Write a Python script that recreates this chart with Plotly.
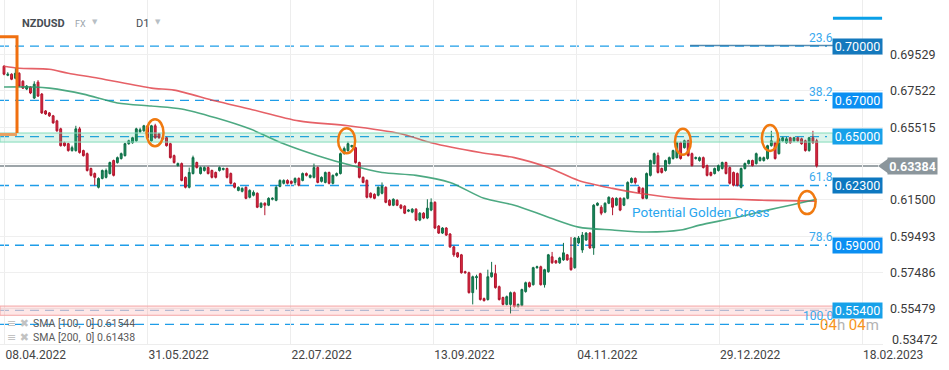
import plotly.graph_objects as go
import pandas as pd

# ---------------- data ----------------
trade_dates = pd.bdate_range("2022-04-08", "2023-02-03")  # 216 daily sessions
bar_pos = list(range(len(trade_dates)))

opens = [
    0.6889, 0.6839, 0.6845, 0.6823, 0.6850, 0.6806, 0.6763, 0.6774, 0.6713, 0.6801,
    0.6735, 0.6642, 0.6631, 0.6615, 0.6587, 0.6543, 0.6466, 0.6461, 0.6423, 0.6423,
    0.6543, 0.6423, 0.6406, 0.6324, 0.6296, 0.6220, 0.6269, 0.6275, 0.6296, 0.6368,
    0.6357, 0.6379, 0.6395, 0.6461, 0.6466, 0.6477, 0.6527, 0.6532, 0.6560, 0.6477,
    0.6560, 0.6516, 0.6494, 0.6494, 0.6461, 0.6395, 0.6340, 0.6351, 0.6275, 0.6220,
    0.6296, 0.6357, 0.6296, 0.6313, 0.6329, 0.6313, 0.6302, 0.6313, 0.6318, 0.6324,
    0.6296, 0.6242, 0.6203, 0.6198, 0.6220, 0.6165, 0.6176, 0.6187, 0.6110, 0.6132,
    0.6121, 0.6154, 0.6148, 0.6225, 0.6242, 0.6258, 0.6253, 0.6247, 0.6269, 0.6258,
    0.6296, 0.6275, 0.6275, 0.6329, 0.6253, 0.6247, 0.6302, 0.6242, 0.6286, 0.6296,
    0.6406, 0.6423, 0.6445, 0.6439, 0.6357, 0.6275, 0.6258, 0.6187, 0.6181, 0.6176,
    0.6187, 0.6220, 0.6148, 0.6121, 0.6148, 0.6121, 0.6116, 0.6088, 0.6083, 0.6099,
    0.6039, 0.6077, 0.6050, 0.6094, 0.6137, 0.6006, 0.5967, 0.5995, 0.5962, 0.5891,
    0.5858, 0.5847, 0.5754, 0.5748, 0.5638, 0.5721, 0.5743, 0.5605, 0.5600, 0.5726,
    0.5743, 0.5671, 0.5611, 0.5573, 0.5573, 0.5638, 0.5562, 0.5567, 0.5644, 0.5693,
    0.5682, 0.5776, 0.5781, 0.5682, 0.5754, 0.5836, 0.5814, 0.5803, 0.5819, 0.5847,
    0.5830, 0.5776, 0.5913, 0.5874, 0.5929, 0.5967, 0.5885, 0.6121, 0.6110, 0.6083,
    0.6132, 0.6159, 0.6121, 0.6159, 0.6121, 0.6159, 0.6247, 0.6269, 0.6220, 0.6214,
    0.6159, 0.6286, 0.6351, 0.6395, 0.6324, 0.6313, 0.6351, 0.6379, 0.6384, 0.6466,
    0.6439, 0.6477, 0.6406, 0.6379, 0.6368, 0.6384, 0.6340, 0.6302, 0.6296, 0.6313,
    0.6324, 0.6357, 0.6329, 0.6302, 0.6296, 0.6220, 0.6324, 0.6351, 0.6368, 0.6351,
    0.6368, 0.6368, 0.6379, 0.6450, 0.6466, 0.6406, 0.6477, 0.6466, 0.6494, 0.6477,
    0.6494, 0.6488, 0.6477, 0.6423, 0.6494, 0.6477,
]
closes = [
    0.6845, 0.6845, 0.6817, 0.6850, 0.6779, 0.6768, 0.6779, 0.6741, 0.6790, 0.6724,
    0.6631, 0.6625, 0.6615, 0.6576, 0.6532, 0.6450, 0.6450, 0.6423, 0.6439, 0.6543,
    0.6412, 0.6395, 0.6313, 0.6286, 0.6275, 0.6269, 0.6313, 0.6313, 0.6357, 0.6286,
    0.6384, 0.6406, 0.6461, 0.6477, 0.6494, 0.6543, 0.6538, 0.6560, 0.6494, 0.6560,
    0.6494, 0.6494, 0.6488, 0.6450, 0.6384, 0.6357, 0.6351, 0.6258, 0.6220, 0.6302,
    0.6384, 0.6329, 0.6329, 0.6329, 0.6296, 0.6275, 0.6275, 0.6329, 0.6324, 0.6275,
    0.6242, 0.6220, 0.6220, 0.6214, 0.6159, 0.6203, 0.6192, 0.6110, 0.6132, 0.6121,
    0.6159, 0.6159, 0.6220, 0.6258, 0.6258, 0.6242, 0.6242, 0.6269, 0.6231, 0.6296,
    0.6286, 0.6286, 0.6329, 0.6247, 0.6275, 0.6302, 0.6242, 0.6286, 0.6296, 0.6406,
    0.6434, 0.6461, 0.6450, 0.6357, 0.6275, 0.6247, 0.6165, 0.6165, 0.6159, 0.6220,
    0.6225, 0.6137, 0.6121, 0.6154, 0.6121, 0.6105, 0.6077, 0.6094, 0.6099, 0.6039,
    0.6077, 0.6050, 0.6105, 0.6137, 0.5995, 0.5967, 0.5995, 0.5956, 0.5891, 0.5847,
    0.5836, 0.5748, 0.5748, 0.5638, 0.5726, 0.5726, 0.5600, 0.5594, 0.5726, 0.5748,
    0.5666, 0.5600, 0.5573, 0.5616, 0.5638, 0.5562, 0.5573, 0.5655, 0.5693, 0.5671,
    0.5776, 0.5781, 0.5682, 0.5765, 0.5847, 0.5803, 0.5803, 0.5830, 0.5858, 0.5819,
    0.5765, 0.5940, 0.5940, 0.5956, 0.5967, 0.5885, 0.6121, 0.6132, 0.6077, 0.6132,
    0.6165, 0.6110, 0.6159, 0.6094, 0.6159, 0.6247, 0.6269, 0.6247, 0.6192, 0.6159,
    0.6296, 0.6368, 0.6406, 0.6302, 0.6302, 0.6368, 0.6384, 0.6423, 0.6466, 0.6379,
    0.6477, 0.6395, 0.6340, 0.6384, 0.6384, 0.6329, 0.6286, 0.6286, 0.6324, 0.6340,
    0.6357, 0.6296, 0.6242, 0.6231, 0.6231, 0.6324, 0.6351, 0.6368, 0.6340, 0.6406,
    0.6384, 0.6384, 0.6450, 0.6477, 0.6379, 0.6488, 0.6494, 0.6488, 0.6466, 0.6494,
    0.6477, 0.6461, 0.6423, 0.6494, 0.6466, 0.63384,
]
highs = [
    0.6894, 0.6856, 0.6850, 0.6878, 0.6856, 0.6812, 0.6785, 0.6779, 0.6806, 0.6812,
    0.6741, 0.6647, 0.6636, 0.6620, 0.6593, 0.6549, 0.6472, 0.6466, 0.6450, 0.6560,
    0.6554, 0.6428, 0.6412, 0.6329, 0.6302, 0.6275, 0.6318, 0.6324, 0.6362, 0.6373,
    0.6390, 0.6412, 0.6466, 0.6483, 0.6499, 0.6549, 0.6549, 0.6565, 0.6565, 0.6565,
    0.6571, 0.6521, 0.6499, 0.6499, 0.6466, 0.6401, 0.6357, 0.6357, 0.6280, 0.6329,
    0.6395, 0.6362, 0.6335, 0.6335, 0.6335, 0.6318, 0.6307, 0.6335, 0.6329, 0.6329,
    0.6302, 0.6247, 0.6225, 0.6220, 0.6225, 0.6209, 0.6203, 0.6192, 0.6137, 0.6137,
    0.6165, 0.6165, 0.6231, 0.6264, 0.6264, 0.6264, 0.6258, 0.6275, 0.6275, 0.6302,
    0.6302, 0.6291, 0.6351, 0.6335, 0.6280, 0.6307, 0.6307, 0.6291, 0.6302, 0.6412,
    0.6445, 0.6472, 0.6455, 0.6445, 0.6362, 0.6280, 0.6264, 0.6192, 0.6187, 0.6225,
    0.6247, 0.6225, 0.6154, 0.6159, 0.6154, 0.6127, 0.6121, 0.6099, 0.6105, 0.6105,
    0.6083, 0.6083, 0.6154, 0.6159, 0.6143, 0.6011, 0.6000, 0.6000, 0.5967, 0.5896,
    0.5863, 0.5852, 0.5759, 0.5754, 0.5732, 0.5737, 0.5748, 0.5611, 0.5765, 0.5808,
    0.5792, 0.5677, 0.5616, 0.5622, 0.5644, 0.5644, 0.5578, 0.5660, 0.5699, 0.5699,
    0.5781, 0.5787, 0.5787, 0.5770, 0.5852, 0.5863, 0.5819, 0.5836, 0.5913, 0.5852,
    0.5945, 0.5945, 0.5951, 0.5973, 0.5973, 0.5973, 0.6127, 0.6137, 0.6121, 0.6137,
    0.6170, 0.6165, 0.6165, 0.6165, 0.6165, 0.6253, 0.6275, 0.6275, 0.6225, 0.6220,
    0.6302, 0.6373, 0.6412, 0.6412, 0.6329, 0.6373, 0.6390, 0.6428, 0.6472, 0.6472,
    0.6483, 0.6483, 0.6412, 0.6390, 0.6390, 0.6390, 0.6346, 0.6307, 0.6329, 0.6346,
    0.6362, 0.6362, 0.6335, 0.6307, 0.6302, 0.6329, 0.6357, 0.6373, 0.6373, 0.6412,
    0.6390, 0.6390, 0.6455, 0.6532, 0.6472, 0.6494, 0.6499, 0.6499, 0.6499, 0.6499,
    0.6499, 0.6494, 0.6483, 0.6499, 0.6532, 0.6488,
]
lows = [
    0.6839, 0.6834, 0.6812, 0.6817, 0.6774, 0.6763, 0.6757, 0.6735, 0.6708, 0.6719,
    0.6625, 0.6620, 0.6609, 0.6571, 0.6527, 0.6445, 0.6445, 0.6417, 0.6417, 0.6417,
    0.6406, 0.6390, 0.6307, 0.6280, 0.6231, 0.6214, 0.6264, 0.6269, 0.6291, 0.6280,
    0.6351, 0.6373, 0.6390, 0.6455, 0.6461, 0.6472, 0.6521, 0.6527, 0.6488, 0.6472,
    0.6488, 0.6488, 0.6483, 0.6445, 0.6379, 0.6351, 0.6335, 0.6253, 0.6214, 0.6214,
    0.6291, 0.6324, 0.6291, 0.6307, 0.6291, 0.6269, 0.6269, 0.6307, 0.6313, 0.6269,
    0.6236, 0.6214, 0.6198, 0.6192, 0.6154, 0.6159, 0.6170, 0.6105, 0.6105, 0.6066,
    0.6116, 0.6148, 0.6143, 0.6220, 0.6236, 0.6236, 0.6236, 0.6231, 0.6225, 0.6253,
    0.6280, 0.6269, 0.6269, 0.6242, 0.6247, 0.6242, 0.6236, 0.6236, 0.6280, 0.6291,
    0.6401, 0.6417, 0.6439, 0.6351, 0.6269, 0.6242, 0.6159, 0.6159, 0.6154, 0.6170,
    0.6181, 0.6132, 0.6116, 0.6116, 0.6116, 0.6099, 0.6072, 0.6083, 0.6077, 0.6033,
    0.6033, 0.6044, 0.6044, 0.6088, 0.5989, 0.5962, 0.5962, 0.5951, 0.5885, 0.5836,
    0.5830, 0.5743, 0.5743, 0.5633, 0.5573, 0.5655, 0.5594, 0.5589, 0.5594, 0.5721,
    0.5660, 0.5594, 0.5567, 0.5567, 0.5523, 0.5556, 0.5556, 0.5562, 0.5638, 0.5666,
    0.5677, 0.5770, 0.5677, 0.5666, 0.5748, 0.5797, 0.5797, 0.5797, 0.5814, 0.5814,
    0.5759, 0.5770, 0.5907, 0.5858, 0.5924, 0.5880, 0.5847, 0.6116, 0.6066, 0.6077,
    0.6127, 0.6066, 0.6116, 0.6088, 0.6116, 0.6154, 0.6242, 0.6236, 0.6187, 0.6154,
    0.6154, 0.6280, 0.6346, 0.6296, 0.6296, 0.6307, 0.6346, 0.6373, 0.6379, 0.6373,
    0.6434, 0.6390, 0.6335, 0.6373, 0.6362, 0.6324, 0.6280, 0.6280, 0.6291, 0.6307,
    0.6318, 0.6291, 0.6236, 0.6225, 0.6225, 0.6214, 0.6318, 0.6346, 0.6335, 0.6346,
    0.6362, 0.6362, 0.6373, 0.6445, 0.6373, 0.6401, 0.6472, 0.6461, 0.6461, 0.6472,
    0.6472, 0.6455, 0.6417, 0.6417, 0.6461, 0.6329,
]

# moving averages (sampled along the curve, by bar index)
sma100_pos = [0, 8, 12, 21, 30, 39, 47, 56, 65, 74, 83, 92, 100, 109, 118, 127, 135,
              144, 152, 161, 170, 179, 184, 193, 202, 208, 215]
sma100_vals = [0.6774, 0.6774, 0.6768, 0.6735, 0.6686, 0.6669, 0.6653, 0.6604, 0.6543,
               0.6461, 0.6395, 0.6340, 0.6302, 0.6286, 0.6247, 0.6159, 0.6121, 0.6055,
               0.6000, 0.5984, 0.5973, 0.5984, 0.6011, 0.6050, 0.6094, 0.6121, 0.61544]
sma200_pos = [0, 4, 12, 17, 25, 39, 45, 56, 65, 78, 91, 105, 113, 126, 135, 144, 152,
              161, 168, 179, 184, 193, 202, 215]
sma200_vals = [0.6889, 0.6878, 0.6872, 0.6850, 0.6823, 0.6768, 0.6757, 0.6697, 0.6653,
               0.6587, 0.6560, 0.6516, 0.6466, 0.6412, 0.6384, 0.6329, 0.6258, 0.6214,
               0.6187, 0.6159, 0.6154, 0.6154, 0.6148, 0.61438]

x_tick_pos = [0.2, 38.0, 75.8, 113.6, 151.4, 189.2, 227.0]
x_tick_labels = ["08.04.2022", "31.05.2022", "22.07.2022", "13.09.2022",
                 "04.11.2022", "29.12.2022", "18.02.2023"]
y_ticks = [0.69529, 0.67522, 0.65515, 0.63508, 0.61500, 0.59493, 0.57486, 0.55479]
y_tick_text = ["0.69529", "0.67522", "0.65515", "", "0.61500", "0.59493", "0.57486", "0.55479"]

levels = [0.70000, 0.67000, 0.65000, 0.62300, 0.59000, 0.55400]
level_colors = ["#1479bd", "#0b8ff2", "#17a1e9", "#0d78c0", "#0b8ff2", "#17a1e9"]
fib_labels = ["23.6", "38.2", "61.8", "78.6", "100.0"]
fib_label_y = [0.7045, 0.6747, 0.6277, 0.5946, 0.5509]
fib_100_level = 0.5463
last_price = 0.63384
sma_legend = ["SMA [100,  0] 0.61544", "SMA [200,  0] 0.61438"]

# ---------------- layout constants ----------------
W, H = 949, 370
ML, MR, MT, MB = 0, 66, 0, 26
PW, PH = W - ML - MR, H - MT - MB
X_RANGE = [-1.06, 232.54]
Y_RANGE = [0.53543, 0.72549]
FONT = "Roboto, 'Noto Sans', sans-serif"


def px_x(px):  # paper x from pixel
    return px / PW


def px_y(py):  # paper y from pixel (top=0)
    return (PH - py) / PH


def val_to_paper(v):
    return (v - Y_RANGE[0]) / (Y_RANGE[1] - Y_RANGE[0])


fig = go.Figure()

fig.add_trace(go.Candlestick(
    x=bar_pos, open=opens, high=highs, low=lows, close=closes,
    increasing=dict(line=dict(color="#0f6e47", width=1), fillcolor="#18895a"),
    decreasing=dict(line=dict(color="#b0142c", width=1), fillcolor="#dd2a42"),
    whiskerwidth=0, hoverinfo="skip", showlegend=False,
))
fig.add_trace(go.Scatter(
    x=sma200_pos, y=sma200_vals, mode="lines", hoverinfo="skip", showlegend=False,
    line=dict(color="#e2464d", width=1.6, shape="spline", smoothing=0.8), opacity=0.85,
))
fig.add_trace(go.Scatter(
    x=sma100_pos, y=sma100_vals, mode="lines", hoverinfo="skip", showlegend=False,
    line=dict(color="#2e9b6d", width=1.6, shape="spline", smoothing=0.8), opacity=0.85,
))

shapes = []
dash_end = px_x(827)
for lvl in levels:
    col = "#a6c7e4" if lvl == 0.554 else "#1e9de8"
    shapes.append(dict(type="line", xref="paper", yref="y", x0=0, x1=dash_end, y0=lvl, y1=lvl,
                       line=dict(color=col, width=1.3, dash="9px,6px"), layer="below"))
shapes.append(dict(type="line", xref="paper", yref="y", x0=0, x1=dash_end, y0=fib_100_level,
                   y1=fib_100_level, line=dict(color="#1e9de8", width=1.3, dash="9px,6px"),
                   layer="below"))
# dark fib segment and top line
shapes.append(dict(type="line", xref="x", yref="y", x0=181.5, x1=219.3, y0=0.7004, y1=0.7004,
                   line=dict(color="#2a6f9e", width=1.5), opacity=0.8))
shapes.append(dict(type="line", xref="x", yref="y", x0=219.3, x1=232.3, y0=0.7154, y1=0.7154,
                   line=dict(color="#0aa0e8", width=3)))
# zones
shapes.append(dict(type="rect", xref="paper", yref="y", x0=0, x1=px_x(833), y0=0.6470, y1=0.6520,
                   fillcolor="rgba(60,200,150,0.18)", line=dict(color="#84dcbb", width=1)))
shapes.append(dict(type="rect", xref="paper", yref="y", x0=0, x1=px_x(833), y0=0.5513, y1=0.5564,
                   fillcolor="rgba(250,110,110,0.17)", line=dict(color="#f4a6a6", width=1)))
# current price line
shapes.append(dict(type="line", xref="paper", yref="y", x0=0, x1=px_x(878), y0=last_price,
                   y1=last_price, line=dict(color="#7d878d", width=1.5), layer="below"))
# price tag arrow
yp = val_to_paper(last_price)
dy = 8 / PH
shapes.append(dict(type="path", xref="paper", yref="paper",
                   path=f"M {px_x(878)},{yp} L {px_x(889)},{yp + dy} L {px_x(889)},{yp - dy} Z",
                   fillcolor="#8b969c", line=dict(width=0)))
# orange bracket
shapes.append(dict(type="path", xref="x", yref="y",
                   path="M -1.2,0.7052 L 3.44,0.7052 L 3.44,0.6520",
                   line=dict(color="#f07010", width=3)))
shapes.append(dict(type="line", xref="x", yref="y", x0=-1.2, x1=3.44, y0=0.6512, y1=0.6512,
                   line=dict(color="#e9a060", width=3)))
# orange ellipses
ellipses = [(37.7, 42.2, 0.6447, 0.6596), (88.4, 92.9, 0.6408, 0.6547),
            (177.5, 181.7, 0.6400, 0.6544), (200.5, 204.8, 0.6421, 0.6564),
            (210.2, 214.7, 0.6072, 0.6199)]
for x0, x1, y0, y1 in ellipses:
    shapes.append(dict(type="circle", xref="x", yref="y", x0=x0, x1=x1, y0=y0, y1=y1,
                       line=dict(color="#f07a10", width=2.5)))

annotations = []
for lvl, col in zip(levels, level_colors):
    annotations.append(dict(x=225.8, y=lvl, xref="x", yref="y", text=f"{lvl:.5f}",
                            xanchor="center", yanchor="middle",
                            showarrow=False, bgcolor=col, width=47, height=13, borderpad=1,
                            font=dict(color="white", size=12.5, family=FONT)))
for lab, yv in zip(fib_labels, fib_label_y):
    annotations.append(dict(x=219.8, y=yv, xref="x", yref="y", text=lab, xanchor="right",
                            yanchor="middle", showarrow=False,
                            font=dict(color="#39a9ee", size=12, family=FONT)))
annotations.append(dict(x=px_x(912.5), y=yp, xref="paper", yref="paper", text="<b>0.63384</b>",
                        xanchor="center", yanchor="middle",
                        showarrow=False, bgcolor="#8b969c", width=47, height=14, borderpad=1,
                        font=dict(color="white", size=12.5, family=FONT)))
annotations.append(dict(x=px_x(890), y=px_y(339), xref="paper", yref="paper", text="0.53472",
                        xanchor="left", yanchor="middle", showarrow=False,
                        font=dict(color="#3a3a3a", size=12.5, family=FONT)))
annotations.append(dict(x=165.6, y=0.6084, xref="x", yref="y", text="Potential Golden Cross",
                        xanchor="left", yanchor="middle", showarrow=False,
                        font=dict(color="#2aa6ee", size=13.5, family=FONT)))
annotations.append(dict(x=px_x(881), y=px_y(325), xref="paper", yref="paper", xanchor="right",
                        yanchor="middle",
                        text="<span style='color:#f7941d'>04</span><span style='color:#b3b3b3'>h </span>"
                             "<span style='color:#f7941d'>04</span><span style='color:#b3b3b3'>m</span>",
                        showarrow=False, font=dict(size=15, family=FONT)))
# header
annotations.append(dict(x=px_x(20), y=px_y(23), xref="paper", yref="paper", text="<b>NZDUSD</b>",
                        xanchor="left", yanchor="middle", showarrow=False,
                        font=dict(color="#474d54", size=11, family=FONT)))
annotations.append(dict(x=px_x(73), y=px_y(24), xref="paper", yref="paper", text="FX",
                        xanchor="left", yanchor="middle", showarrow=False,
                        font=dict(color="#9aa3aa", size=9, family=FONT)))
for tx in (90, 153):
    annotations.append(dict(x=px_x(tx), y=px_y(22), xref="paper", yref="paper", text="▼",
                            xanchor="left", yanchor="middle", showarrow=False,
                            font=dict(color="#b8bfc5", size=7, family="DejaVu Sans")))
annotations.append(dict(x=px_x(134), y=px_y(23), xref="paper", yref="paper", text="D1",
                        xanchor="left", yanchor="middle", showarrow=False,
                        font=dict(color="#474d54", size=11, family=FONT)))
# indicator legend
for k, txt in enumerate(sma_legend):
    ypx = 323 + 14.5 * k
    annotations.append(dict(x=px_x(5), y=px_y(ypx), xref="paper", yref="paper", text="≡ ✖",
                            xanchor="left", yanchor="middle", showarrow=False,
                            font=dict(color="#c2c2c2", size=11, family="DejaVu Sans")))
    annotations.append(dict(x=px_x(31), y=px_y(ypx), xref="paper", yref="paper", text=txt,
                            xanchor="left", yanchor="middle", showarrow=False,
                            font=dict(color="#5a5a5a", size=10.5, family=FONT)))

fig.update_layout(
    width=W, height=H,
    margin=dict(l=ML, r=MR, t=MT, b=MB, pad=0),
    paper_bgcolor="white", plot_bgcolor="white",
    showlegend=False, hovermode=False,
    shapes=shapes, annotations=annotations,
    font=dict(family=FONT),
    xaxis=dict(range=X_RANGE, tickmode="array", tickvals=x_tick_pos, ticktext=x_tick_labels,
               showgrid=True, gridcolor="#ededed", gridwidth=1, zeroline=False, ticks="",
               showline=True, linecolor="#ededed", linewidth=1,
               tickfont=dict(size=12, color="#444", family=FONT), ticklabelshift=31,
               rangeslider=dict(visible=False), fixedrange=True),
    yaxis=dict(range=Y_RANGE, side="right", tickmode="array", tickvals=y_ticks,
               ticktext=y_tick_text, showgrid=True, gridcolor="#efefef", gridwidth=1,
               zeroline=False, ticks="", showline=False, ticklabelstandoff=6,
               tickfont=dict(size=12.5, color="#3a3a3a", family=FONT), fixedrange=True),
)

fig.write_html(
    "out.html",
    config={"displayModeBar": False},
    post_script="document.body.style.margin='0px';document.body.style.padding='0px';",
)
